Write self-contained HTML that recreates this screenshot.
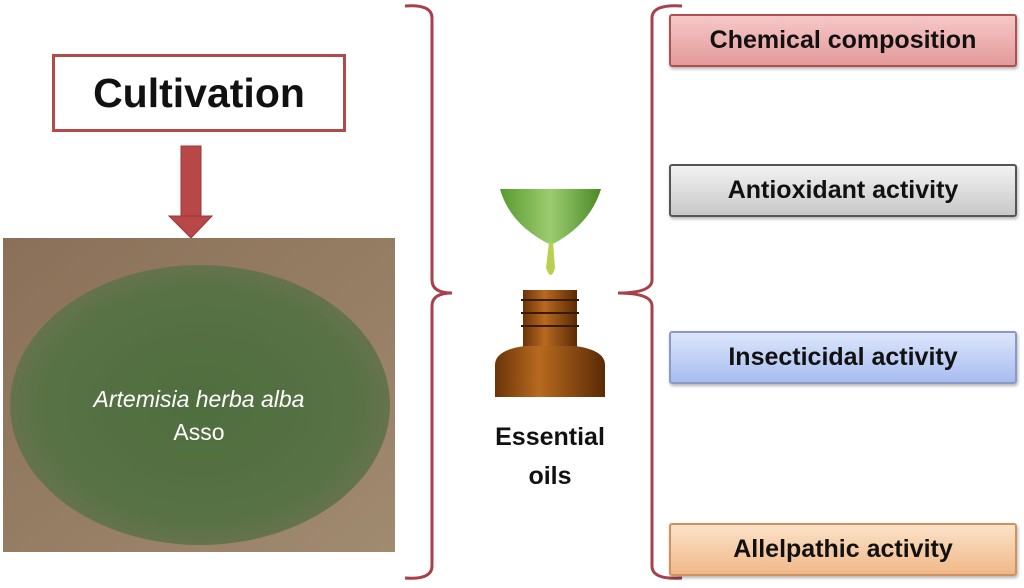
<!DOCTYPE html>
<html><head><meta charset="utf-8"><style>
body{margin:0;width:1024px;height:588px;background:#fff;position:relative;overflow:hidden;font-family:"Liberation Sans",sans-serif}
.box{position:absolute;left:669px;width:348px;height:53px;border:2px solid #b05050;border-radius:3px;box-sizing:border-box;display:flex;align-items:center;justify-content:center;font-weight:bold;font-size:25px;color:#111;box-shadow:1px 2px 3px rgba(0,0,0,.3)}
</style></head><body>
<div style="position:absolute;left:52px;top:54px;width:294px;height:78px;border:3px solid #b24a4a;box-sizing:border-box;display:flex;align-items:center;justify-content:center;font-weight:bold;font-size:41px;color:#111">Cultivation</div>
<svg style="position:absolute;left:0;top:0" width="1024" height="588">
<defs>
<radialGradient id="bush" cx="50%" cy="50%" r="55%"><stop offset="0" stop-color="#4f6e3e"/><stop offset=".75" stop-color="#587245"/><stop offset="1" stop-color="#6e7452"/></radialGradient>
<linearGradient id="ground" x1="0" y1="0" x2="1" y2="1"><stop offset="0" stop-color="#8a7058"/><stop offset="1" stop-color="#a08a70"/></linearGradient>
<linearGradient id="bottle" x1="0" x2="1"><stop offset="0" stop-color="#6a3408"/><stop offset=".4" stop-color="#b86a20"/><stop offset="1" stop-color="#5a2a05"/></linearGradient>
<linearGradient id="leaf" x1="0" x2="1"><stop offset="0" stop-color="#5a9a30"/><stop offset=".5" stop-color="#9ccc70"/><stop offset="1" stop-color="#4a8a25"/></linearGradient>
<clipPath id="ph"><rect x="3" y="238" width="392" height="314"/></clipPath>
</defs>
<rect x="181" y="146" width="20" height="72" fill="#b84848" stroke="#9a3838"/>
<polygon points="169,216 212,216 191,238" fill="#b84848" stroke="#9a3838"/>
<rect x="3" y="238" width="392" height="314" fill="url(#ground)"/>
<g clip-path="url(#ph)">
<ellipse cx="200" cy="405" rx="190" ry="140" fill="url(#bush)"/>
</g>
<path d="M405,6 Q432,4 432,18 V280 Q432,293 452,293 Q432,293 432,306 V566 Q432,580 405,578" fill="none" stroke="#a8404c" stroke-width="3"/>
<path d="M682,6 Q652,4 652,18 V280 Q652,293 618,293 Q652,293 652,306 V566 Q652,580 682,578" fill="none" stroke="#a8404c" stroke-width="3"/>
<path d="M500,189 L601,189 Q590,225 551,245 Q510,225 500,189Z" fill="url(#leaf)"/>
<path d="M549,242 L553,242 L555,268 Q551,282 546,268Z" fill="#b8d050"/>
<rect x="523" y="290" width="54" height="58" fill="url(#bottle)"/>
<g stroke="#3a1a05" stroke-width="2"><line x1="521" y1="300" x2="579" y2="300"/><line x1="521" y1="313" x2="579" y2="313"/><line x1="521" y1="326" x2="579" y2="326"/></g>
<path d="M525,346 H575 Q605,350 605,365 V397 H495 V365 Q495,350 525,346Z" fill="url(#bottle)"/>
</svg>
<div style="position:absolute;left:3px;top:383px;width:392px;text-align:center;color:#fff;font-size:23px;line-height:33px"><i>Artemisia herba alba</i><br>Asso</div>
<div style="position:absolute;left:470px;top:418px;width:160px;text-align:center;font-weight:bold;font-size:25px;line-height:39px;color:#111">Essential<br>oils</div>
<div class="box" style="top:14px;background:linear-gradient(#f6c8c8,#e49a9a)">Chemical composition</div>
<div class="box" style="top:164px;border-color:#555;background:linear-gradient(#f2f2f2,#c8c8c8)">Antioxidant activity</div>
<div class="box" style="top:331px;border-color:#8a9ac8;background:linear-gradient(#dce6fb,#a8bcef)">Insecticidal activity</div>
<div class="box" style="top:523px;border-color:#d09060;background:linear-gradient(#fbe2c8,#f0b888)">Allelpathic activity</div>
</body></html>
